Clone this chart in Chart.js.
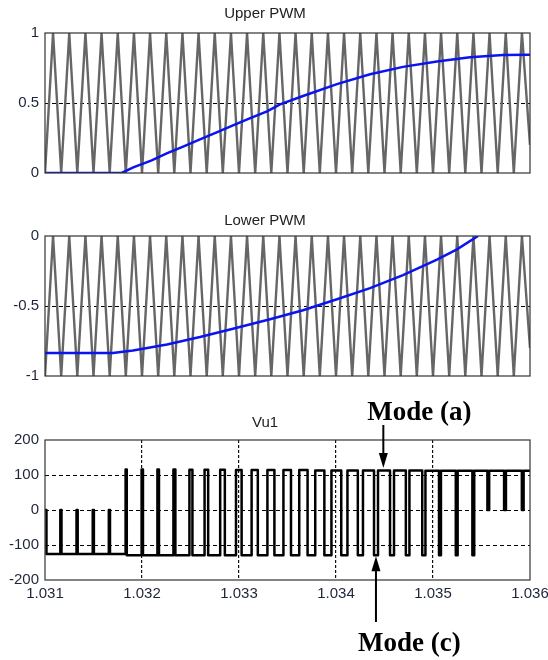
<!DOCTYPE html>
<html>
<head>
<meta charset="utf-8">
<script src="https://cdn.jsdelivr.net/npm/chart.js@4"></script>
<style>
  html, body { margin: 0; padding: 0; background: #fff; }
  #wrap { position: relative; width: 548px; height: 660px; }
  canvas { position: absolute; left: 0; }
</style>
</head>
<body>
<div id="wrap">
  <canvas id="upper" width="548" height="190" style="top:0px"></canvas>
  <canvas id="lower" width="548" height="205" style="top:190px"></canvas>
  <canvas id="vu1" width="548" height="265" style="top:395px"></canvas>
</div>
<script>
// carrier vertices (troughs / peaks), seconds
const carrierTime = [1.031000, 1.031083, 1.031167, 1.031250, 1.031333, 1.031417, 1.031500, 1.031583, 1.031667, 1.031750,
  1.031833, 1.031917, 1.032000, 1.032083, 1.032167, 1.032250, 1.032333, 1.032417, 1.032500, 1.032583,
  1.032667, 1.032750, 1.032833, 1.032917, 1.033000, 1.033083, 1.033167, 1.033250, 1.033333, 1.033417,
  1.033500, 1.033583, 1.033667, 1.033750, 1.033833, 1.033917, 1.034000, 1.034083, 1.034167, 1.034250,
  1.034333, 1.034417, 1.034500, 1.034583, 1.034667, 1.034750, 1.034833, 1.034917, 1.035000, 1.035083,
  1.035167, 1.035250, 1.035333, 1.035417, 1.035500, 1.035583, 1.035667, 1.035750, 1.035833, 1.035917, 1.036000];
const upperCarrier = [0, 1, 0, 1, 0, 1, 0, 1, 0, 1, 0, 1, 0, 1, 0, 1, 0, 1, 0, 1,
  0, 1, 0, 1, 0, 1, 0, 1, 0, 1, 0, 1, 0, 1, 0, 1, 0, 1, 0, 1,
  0, 1, 0, 1, 0, 1, 0, 1, 0, 1, 0, 1, 0, 1, 0, 1, 0, 1, 0, 1, 0.2];
const lowerCarrier = [-1, 0, -1, 0, -1, 0, -1, 0, -1, 0, -1, 0, -1, 0, -1, 0, -1, 0, -1, 0,
  -1, 0, -1, 0, -1, 0, -1, 0, -1, 0, -1, 0, -1, 0, -1, 0, -1, 0, -1, 0,
  -1, 0, -1, 0, -1, 0, -1, 0, -1, 0, -1, 0, -1, 0, -1, 0, -1, 0, -1, 0, -0.8];

// reference (modulating) signals
const upperRefTime = [1.031000, 1.031790, 1.031910, 1.032100, 1.032255, 1.032430, 1.032598, 1.032770, 1.032938, 1.033110,
  1.033289, 1.033423, 1.033660, 1.034010, 1.034351, 1.034691, 1.035041, 1.035381, 1.035722, 1.036000];
const upperRef = [0, 0, 0.04, 0.09, 0.14, 0.19, 0.24, 0.29, 0.34, 0.39,
  0.44, 0.49, 0.55, 0.635, 0.705, 0.758, 0.797, 0.826, 0.843, 0.845];
const lowerRefTime = [1.031000, 1.031700, 1.031907, 1.032258, 1.032598, 1.032938, 1.033320, 1.033660, 1.034010, 1.034351,
  1.034691, 1.035041, 1.035247, 1.035464];
const lowerRef = [-0.835, -0.835, -0.818, -0.775, -0.722, -0.663, -0.595, -0.53, -0.452, -0.372,
  -0.28, -0.168, -0.095, 0];

// Vu1: switching instants and the level taken at each one
const vuTime = [1.031000, 1.031015, 1.031158, 1.031170, 1.031325, 1.031337, 1.031492, 1.031504, 1.031658, 1.031670,
  1.031831, 1.031843, 1.031996, 1.032010, 1.032159, 1.032175, 1.032324, 1.032344, 1.032489, 1.032520,
  1.032645, 1.032682, 1.032806, 1.032854, 1.032969, 1.033027, 1.033130, 1.033194, 1.033293, 1.033365,
  1.033458, 1.033536, 1.033621, 1.033707, 1.033786, 1.033880, 1.033953, 1.034054, 1.034118, 1.034225,
  1.034278, 1.034392, 1.034433, 1.034557, 1.034598, 1.034720, 1.034757, 1.034889, 1.034922, 1.035062, 1.035082,
  1.035235, 1.035254, 1.035406, 1.035425, 1.035561, 1.035579, 1.035733, 1.035752, 1.035916, 1.035934, 1.036000];
const vuLevel = [0, -126, 0, -126, 0, -126, 0, -126, 0, -126,
  116, -129, 116, -129, 116, -129, 116, -129, 115, -129,
  115, -129, 115, -129, 114, -129, 114, -129, 114, -129,
  114, -129, 114, -129, 113, -129, 113, -129, 113, -129,
  113, -129, 113, -129, 113, -129, 113, -129, 112, -129, 112,
  -129, 112, -129, 112, 0, 112, 0, 112, 0, 112, 112];

const pwmTicks = { upper: [0, 0.5, 1], lower: [-1, -0.5, 0] };
const vuTicks = [-200, -100, 0, 100, 200];
const timeTicks = [1.031, 1.032, 1.033, 1.034, 1.035, 1.036];
const modeATime = 1.034488;
const modeCTime = 1.034412;

Chart.defaults.font.family = "'Liberation Sans', Arial, sans-serif";
const tickColor = '#1f2538';
const pts = (xs, ys) => xs.map((x, i) => ({ x, y: ys[i] }));

const frame = {
  id: 'frame',
  afterDatasetsDraw(chart) {
    const { ctx, chartArea: a } = chart;
    ctx.save();
    ctx.strokeStyle = '#333';
    ctx.lineWidth = 1.2;
    ctx.strokeRect(a.left, a.top, a.right - a.left, a.bottom - a.top);
    ctx.restore();
  }
};

function yAxis(ticks, gridAt) {
  return {
    min: ticks[0], max: ticks[ticks.length - 1],
    afterFit: s => { s.width = 45; },
    ticks: { stepSize: ticks[1] - ticks[0], padding: 6, color: tickColor, font: { size: 15 },
      callback: v => String(Number(v)) },
    grid: { drawTicks: false, lineWidth: 1, color: c => gridAt.includes(c.tick.value) ? '#000' : 'rgba(0,0,0,0)' },
    border: { display: false, dash: [4, 3] }
  };
}

function pwmChart(id, title, titlePad, refT, refV, carrier, ticks, gridAt, bottomPad) {
  new Chart(document.getElementById(id), {
    type: 'line',
    data: {
      datasets: [
        { data: pts(refT, refV), borderColor: '#0a14ee', borderWidth: 2.5 },
        { data: pts(carrierTime, carrier), borderColor: '#666', borderWidth: 2.4 }
      ]
    },
    options: {
      responsive: false,
      animation: false,
      devicePixelRatio: 1,
      layout: { padding: { left: 0, right: 18, top: 0, bottom: bottomPad } },
      elements: { point: { radius: 0 }, line: { tension: 0 } },
      plugins: {
        legend: { display: false },
        tooltip: { enabled: false },
        title: { display: true, text: title, color: '#222', font: { size: 15, weight: 'normal' }, padding: titlePad }
      },
      scales: {
        x: { type: 'linear', display: false, min: timeTicks[0], max: timeTicks[timeTicks.length - 1] },
        y: yAxis(ticks, gridAt)
      }
    },
    plugins: [frame]
  });
}

pwmChart('upper', 'Upper PWM', { top: 5, bottom: 10 }, upperRefTime, upperRef, upperCarrier, pwmTicks.upper, [0.5], 17);
pwmChart('lower', 'Lower PWM', { top: 22, bottom: 6 }, lowerRefTime, lowerRef, lowerCarrier, pwmTicks.lower, [-0.5], 19);

// arrows and "Mode" labels on the Vu1 plot
const modeMarks = {
  id: 'modeMarks',
  afterDraw(chart) {
    const { ctx, chartArea: a, scales: { x, y } } = chart;
    const arrow = (px, from, tip) => {
      const dir = tip > from ? 1 : -1;
      ctx.beginPath();
      ctx.moveTo(px, from);
      ctx.lineTo(px, tip - dir * 12);
      ctx.stroke();
      ctx.beginPath();
      ctx.moveTo(px, tip);
      ctx.lineTo(px - 4.5, tip - dir * 15);
      ctx.lineTo(px + 4.5, tip - dir * 15);
      ctx.closePath();
      ctx.fill();
    };
    ctx.save();
    ctx.strokeStyle = '#000';
    ctx.fillStyle = '#000';
    ctx.lineWidth = 2;
    const ax = x.getPixelForValue(modeATime);
    const cx = x.getPixelForValue(modeCTime);
    arrow(ax, a.top - 15, y.getPixelForValue(113) - 2.5);
    arrow(cx, a.bottom + 42, y.getPixelForValue(-129) + 1);
    ctx.font = "bold 27px 'Liberation Serif', 'Times New Roman', serif";
    ctx.textBaseline = 'alphabetic';
    ctx.textAlign = 'left';
    ctx.fillText('Mode (a)', ax - 16, 25);
    ctx.fillText('Mode (c)', cx - 18, 256);
    ctx.restore();
  }
};

new Chart(document.getElementById('vu1'), {
  type: 'line',
  data: {
    datasets: [
      { data: pts(vuTime, vuLevel), borderColor: '#000', borderWidth: 2.5, stepped: 'before', borderJoinStyle: 'round' }
    ]
  },
  options: {
    responsive: false,
    animation: false,
    devicePixelRatio: 1,
    layout: { padding: { left: 0, right: 18, top: 0, bottom: 0 } },
    elements: { point: { radius: 0 }, line: { tension: 0 } },
    plugins: {
      legend: { display: false },
      tooltip: { enabled: false },
      title: { display: true, text: 'Vu1', color: '#222', font: { size: 15, weight: 'normal' }, padding: { top: 19, bottom: 8 } }
    },
    scales: {
      x: {
        type: 'linear',
        min: timeTicks[0], max: timeTicks[timeTicks.length - 1],
        afterFit: s => { s.height = 80; s.paddingLeft = 0; s.paddingRight = 0; },
        ticks: { stepSize: 0.001, padding: 5, color: tickColor, font: { size: 15 }, maxRotation: 0, autoSkip: false,
          callback: v => Number(v).toFixed(3) },
        grid: { drawTicks: false, lineWidth: 1.2,
          color: c => (c.tick.value > timeTicks[0] + 1e-7 && c.tick.value < timeTicks[timeTicks.length - 1] - 1e-7) ? '#111' : 'rgba(0,0,0,0)' },
        border: { display: false, dash: [3, 2] }
      },
      y: yAxis(vuTicks, [-100, 0, 100])
    }
  },
  plugins: [frame, modeMarks]
});
</script>
</body>
</html>
